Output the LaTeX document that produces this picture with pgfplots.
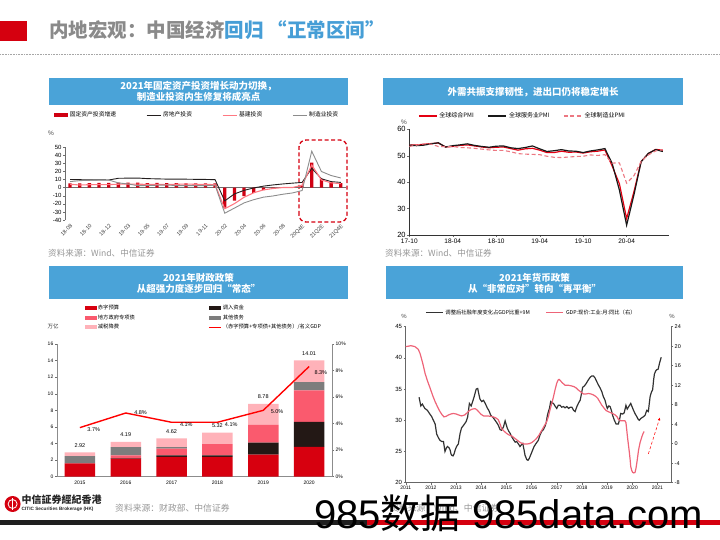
\documentclass[border=0pt]{standalone}
\usepackage{fontspec}
\setmainfont{Liberation Sans}
\newfontfamily\cjk{Noto Sans CJK SC}
\usepackage{pgfplots}
\usepackage{pgfplotstable}
\pgfplotsset{compat=1.18}
\usetikzlibrary{arrows.meta}
\newcommand{\fsz}[1]{\fontsize{#1bp}{#1bp}\selectfont}
\definecolor{cred}{RGB}{213,0,15}
\definecolor{hblue}{RGB}{74,163,216}
\definecolor{tgray}{RGB}{138,138,138}
\definecolor{tblue}{RGB}{70,158,214}
\definecolor{srcgray}{RGB}{150,150,150}
\definecolor{c1red}{RGB}{208,0,18}
\definecolor{c1pink}{RGB}{255,120,130}
\definecolor{c1gray}{RGB}{140,140,140}
\definecolor{c1black}{RGB}{35,30,30}
\definecolor{c2red}{RGB}{228,0,18}
\definecolor{c2pink}{RGB}{236,120,130}
\definecolor{c3red}{RGB}{215,0,15}
\definecolor{c3black}{RGB}{35,24,21}
\definecolor{c3pink}{RGB}{250,90,110}
\definecolor{c3gray}{RGB}{125,125,125}
\definecolor{c3light}{RGB}{255,178,185}
\definecolor{c4black}{RGB}{50,50,50}
\definecolor{c4pink}{RGB}{238,100,120}
\definecolor{axgray}{RGB}{110,110,110}

\pgfplotsset{
 every axis/.append style={scale only axis, anchor=south west,
   axis line style={axgray, line width=0.5pt}, tick style={axgray, line width=0.4pt},
   tick align=outside, major tick length=2bp,
   /pgf/number format/assume math mode=true},
}

\pgfplotstableread{
i fai re infra mfg
0 5.3 10.1 4.2 7.5
1 5.4 9.9 3.3 8.7
2 5.7 9.7 3.7 9.1
3 5.9 9.7 3.7 9.5
4 5.9 9.5 3.8 9.5
5 6.1 11.6 4.3 5.9
6 6.3 11.8 4.4 4.6
7 6.1 11.9 4.4 2.5
8 5.6 11.2 4.0 2.7
9 5.8 10.9 4.1 3.0
10 5.7 10.6 3.8 3.3
11 5.5 10.5 4.2 2.6
12 5.4 10.5 4.5 2.5
13 5.2 10.3 4.2 2.6
14 5.2 10.2 4.0 2.5
15 5.4 9.9 3.8 3.1
16 -24.5 -16.3 -26.0 -31.5
17 -16.1 -7.7 -19.7 -25.2
18 -10.3 -3.3 -11.8 -18.8
19 -6.3 -0.3 -6.3 -14.8
20 -3.1 1.9 -2.7 -11.7
21 -1.6 3.4 -1.0 -10.2
22 -0.3 4.6 0.2 -8.1
23 0.8 5.6 0.2 -6.5
24 3.0 6.5 3.0 -3.5
25 31.0 24.0 28.0 45.0
26 11.0 11.0 9.5 20.0
27 7.0 7.5 6.0 15.0
28 5.5 6.5 5.0 12.0
}\dataA

\pgfplotstableread{
m comp serv mfg
0 54.0 54.0 53.5
1 54.1 53.8 54.0
2 54.3 54.0 54.5
3 54.6 54.5 54.4
4 54.8 54.9 53.5
5 53.3 53.3 53.4
6 53.5 53.8 53.5
7 53.9 54.1 53.1
8 54.1 54.5 53.0
9 53.7 53.9 52.8
10 53.3 53.5 52.5
11 53.0 53.2 52.2
12 53.2 53.6 52.0
13 53.3 53.7 52.0
14 52.7 53.0 51.5
15 52.1 52.7 50.8
16 52.6 53.1 50.6
17 52.8 53.7 50.5
18 52.1 52.6 50.4
19 51.2 51.6 49.8
20 51.2 51.9 49.4
21 51.7 52.3 49.3
22 51.3 51.8 49.5
23 51.4 51.7 49.7
24 51.0 51.2 49.8
25 51.5 51.8 50.3
26 51.7 52.2 50.1
27 52.2 52.7 50.4
28 46.1 47.1 47.2
29 39.4 37.0 47.3
30 26.2 23.7 39.6
31 36.3 35.1 42.4
32 47.8 47.7 47.9
33 50.8 50.9 50.3
34 52.4 52.3 51.8
35 52.1 51.6 52.3
}\dataB

\pgfplotstableread{
i red black pink gray light
0 1.62 0.00 0.00 0.86 0.44
1 2.18 0.05 0.35 1.00 0.61
2 2.38 0.20 0.80 0.20 1.04
3 2.38 0.20 1.35 0.00 1.39
4 2.65 1.45 2.15 0.00 2.53
5 3.60 3.00 3.80 1.00 2.61
}\dataC

\begin{document}
\begin{tikzpicture}
\begin{scope}[x=1bp,y=1bp]
\path[use as bounding box] (0,0) rectangle (720,540);

% ---------- page title ----------
\fill[cred] (0,499) rectangle (27,519);
\node[anchor=west, font=\cjk\bfseries\fsz{19.5}, inner sep=0pt] at (49,509.5)
  {\textcolor{tgray}{内地宏观：中国经济}\textcolor{tblue}{回归\hspace{4bp}“正常区间”}};
\draw[black!35, densely dotted, line width=0.6pt] (0,486) -- (720,486);

% ---------- headers ----------
\fill[hblue] (49,435) rectangle (348,462);
\node[text=white, font=\cjk\bfseries\fontsize{9.5bp}{11.5bp}\selectfont, align=center] at (198.5,448.5)
  {2021年固定资产投资增长动力切换，\\制造业投资内生修复将成亮点};
\fill[hblue] (383,435) rectangle (683,462);
\node[text=white, font=\cjk\bfseries\fsz{9.5}] at (533,447.5) {外需共振支撑韧性，进出口仍将稳定增长};
\fill[hblue] (49,241) rectangle (348,274);
\node[text=white, font=\cjk\bfseries\fontsize{9.5bp}{11.7bp}\selectfont, align=center] at (198.5,256.5)
  {2021年财政政策\\从超强力度逐步回归“常态”};
\fill[hblue] (386,241) rectangle (683,274);
\node[text=white, font=\cjk\bfseries\fontsize{9.5bp}{11.7bp}\selectfont, align=center] at (534.5,256.5)
  {2021年货币政策\\从“非常应对”转向“再平衡”};

\node[font=\fsz{6.5}, text=black!70] at (51,407) {\%};
\draw[cred, line width=1.3pt, dash pattern=on 4bp off 2.5bp, rounded corners=7bp] (299,318) rectangle (347,400);
\node[anchor=west, font=\cjk\fsz{8.6}, text=srcgray, inner sep=0pt] at (48,286.7) {资料来源：Wind、中信证券};
\node[font=\fsz{6.5}, text=black!70] at (404,418) {\%};
\node[anchor=west, font=\cjk\fsz{8.6}, text=srcgray, inner sep=0pt] at (385,286.7) {资料来源：Wind、中信证券};
\node[font=\cjk\fsz{5.5}, text=black!80] at (53,214) {万亿};
\node[font=\fsz{6}, text=black!70] at (404,223.3) {\%};
\node[font=\fsz{6}, text=black!70] at (672,223.3) {\%};

% ---------- footer ----------
\fill[cred] (12.6,36) circle (8);
\draw[white, line width=1pt] (12.6,30) -- (12.6,42);
\draw[white, line width=0.8pt] (12.6,36) circle (4.5);
\node[anchor=west, font=\cjk\bfseries\fsz{10}, text=black!85, inner sep=0pt] at (21.5,40.5) {中信証券經紀香港};
\node[anchor=west, font=\bfseries\fsz{4.7}, text=black!85, inner sep=0pt] at (21.5,30.5) {CITIC Securities Brokerage (HK)};
\node[anchor=west, font=\cjk\fsz{8.8}, text=srcgray, inner sep=0pt] at (115,32) {资料来源：财政部、中信证券};
\node[anchor=west, font=\cjk\fsz{8.8}, text=srcgray, inner sep=0pt] at (390,32) {资料来源：Wind、中信证券};
\fill[black!88] (0,15) rectangle (367,20);
\fill[cred] (367,15) rectangle (720,20);
\end{scope}

% ---------- chart 1 ----------
\begin{axis}[at={(65.2bp,319.9bp)}, width=280.4bp, height=72.9bp,
  xmin=-0.5, xmax=28.5, ymin=-40, ymax=50,
  ytick={-40,-30,...,50},
  axis y line*=left, axis x line*=bottom, x axis line style={draw=none},
  xtick={0,2,...,28},
  xticklabels={18-08,18-10,18-12,19-03,19-05,19-07,19-09,19-11,20-02,20-04,20-06,20-08,20Q4E,21Q2E,21Q4E},
  xtick style={draw=none},
  x tick label style={rotate=45, anchor=north east, font=\fsz{5.5}, inner sep=1bp, text=black!75},
  y tick label style={font=\fsz{6}, inner sep=1.5bp},
  extra y ticks={0}, extra y tick labels={},
  extra y tick style={grid=major, major grid style={axgray, line width=0.5pt}},
  legend columns=4,
  legend style={at={(0.47,1.44)}, anchor=center, draw=none, fill=none, font=\cjk\fsz{5.8},
    /tikz/every even column/.append style={column sep=28bp}, inner sep=0pt},
]
\addplot[ybar, bar width=3.3bp, fill=c1red, draw=none,
  legend image code/.code={\fill[c1red] (0bp,-1.8bp) rectangle (14bp,1.8bp);}]
  table[x=i,y=fai]{\dataA};
\addlegendentry{固定资产投资增速}
\addplot[c1black, line width=0.9pt,
  legend image code/.code={\draw[c1black, line width=0.9pt] (0bp,0bp) -- (14bp,0bp);}]
  table[x=i,y=re]{\dataA};
\addlegendentry{房地产投资}
\addplot[c1pink, line width=1.1pt,
  legend image code/.code={\draw[c1pink, line width=1.1pt] (0bp,0bp) -- (14bp,0bp);}]
  table[x=i,y=infra]{\dataA};
\addlegendentry{基建投资}
\addplot[c1gray, line width=0.9pt,
  legend image code/.code={\draw[c1gray, line width=0.9pt] (0bp,0bp) -- (14bp,0bp);}]
  table[x=i,y=mfg]{\dataA};
\addlegendentry{制造业投资}
\end{axis}

% ---------- chart 2 ----------
\begin{axis}[at={(409.3bp,305bp)}, width=259.7bp, height=105.7bp,
  xmin=0, xmax=35.85, ymin=20, ymax=60,
  ytick={20,30,...,60}, xtick={0,6,...,30},
  xticklabels={17-10,18-04,18-10,19-04,19-10,20-04},
  axis y line*=left, axis x line*=bottom, axis line style={black!80},
  y tick label style={font=\fsz{7.5}, inner sep=1.5bp},
  x tick label style={font=\fsz{6.5}, inner sep=1.5bp},
  legend columns=3,
  legend style={at={(0.0335,1.126)}, anchor=west, draw=none, fill=none, font=\cjk\fsz{6},
    /tikz/every even column/.append style={column sep=12bp}, inner sep=0pt},
]
\addplot[c2red, line width=1.2pt,
  legend image code/.code={\draw[c2red, line width=1.2pt] (0bp,0bp) -- (18bp,0bp);}]
  table[x=m,y=comp]{\dataB};
\addlegendentry{全球综合PMI}
\addplot[black!90, line width=1.2pt,
  legend image code/.code={\draw[black!90, line width=1.2pt] (0bp,0bp) -- (18bp,0bp);}]
  table[x=m,y=serv]{\dataB};
\addlegendentry{全球服务业PMI}
\addplot[c2pink, line width=1.1pt, dash pattern=on 4bp off 2.5bp,
  legend image code/.code={\draw[c2pink, line width=1.1pt, dash pattern=on 4bp off 2.5bp] (0bp,0bp) -- (18bp,0bp);}]
  table[x=m,y=mfg]{\dataB};
\addlegendentry{全球制造业PMI}
\end{axis}

% ---------- chart 3 ----------
\begin{axis}[at={(57bp,63.3bp)}, width=275bp, height=132.7bp,
  xmin=-0.5, xmax=5.5, ymin=0, ymax=16,
  ytick={0,2,...,16}, xtick={0,...,5},
  xticklabels={2015,2016,2017,2018,2019,2020},
  xtick style={draw=none},
  ybar stacked, bar width=30.5bp,
  axis y line*=left, axis x line*=bottom, axis line style={black!45},
  y tick label style={font=\fsz{5}, inner sep=1.5bp},
  x tick label style={font=\fsz{5}, inner sep=2bp},
  legend columns=2, legend cell align=left,
  legend style={at={(0.1,1.305)}, anchor=north west, draw=none, fill=none, font=\cjk\fsz{5.3},
    /tikz/every even column/.append style={column sep=72bp}, row sep=1.3bp,
    nodes={inner sep=1.2bp}, inner sep=0pt},
]
\addplot[fill=c3red, draw=none,
  legend image code/.code={\fill[c3red] (0bp,-2bp) rectangle (12bp,2bp);}]
  table[x=i,y=red]{\dataC};
\addlegendentry{赤字预算}
\addplot[fill=c3black, draw=none,
  legend image code/.code={\fill[c3black] (0bp,-2bp) rectangle (12bp,2bp);}]
  table[x=i,y=black]{\dataC};
\addlegendentry{调入资金}
\addplot[fill=c3pink, draw=none,
  legend image code/.code={\fill[c3pink] (0bp,-2bp) rectangle (12bp,2bp);}]
  table[x=i,y=pink]{\dataC};
\addlegendentry{地方政府专项债}
\addplot[fill=c3gray, draw=none,
  legend image code/.code={\fill[c3gray] (0bp,-2bp) rectangle (12bp,2bp);}]
  table[x=i,y=gray]{\dataC};
\addlegendentry{其他债务}
\addplot[fill=c3light, draw=none,
  legend image code/.code={\fill[c3light] (0bp,-2bp) rectangle (12bp,2bp);}]
  table[x=i,y=light]{\dataC};
\addlegendentry{减税降费}
\addlegendimage{red, line width=1.4pt,
  legend image code/.code={\draw[red, line width=1.4pt] (0bp,0bp) -- (12bp,0bp);}}
\addlegendentry{（赤字预算+专项债+其他债务）/名义GDP}
\node[above, font=\fsz{5.5}, yshift=1.5bp] at (axis cs:0,2.92) {2.92};
\node[above, font=\fsz{5.5}, yshift=1.5bp] at (axis cs:1,4.19) {4.19};
\node[above, font=\fsz{5.5}, yshift=1.5bp] at (axis cs:2,4.62) {4.62};
\node[above, font=\fsz{5.5}, yshift=1.5bp] at (axis cs:3,5.32) {5.32};
\node[above, font=\fsz{5.5}, yshift=1.5bp] at (axis cs:4,8.78) {8.78};
\node[above, font=\fsz{5.5}, yshift=1.5bp] at (axis cs:5,14.01) {14.01};
\end{axis}
\begin{axis}[at={(57bp,63.3bp)}, width=275bp, height=132.7bp,
  xmin=-0.5, xmax=5.5, ymin=0, ymax=10,
  ytick={0,2,...,10}, yticklabel={\pgfmathprintnumber{\tick}\%},
  axis y line*=right, axis x line=none, axis line style={black!45},
  y tick label style={font=\fsz{5}, inner sep=1.5bp},
]
\addplot[red, line width=1.4pt] coordinates {(0,3.7) (1,4.8) (2,4.1) (3,4.1) (4,5.0) (5,8.3)};
\node[anchor=west, font=\fsz{5.5}, xshift=4bp, yshift=-2bp] at (axis cs:0,3.7) {3.7\%};
\node[anchor=west, font=\fsz{5.5}, xshift=5bp, yshift=0bp] at (axis cs:1,4.8) {4.8\%};
\node[anchor=west, font=\fsz{5.5}, xshift=5bp, yshift=-2bp] at (axis cs:2,4.1) {4.1\%};
\node[anchor=west, font=\fsz{5.5}, xshift=4bp, yshift=-2.5bp] at (axis cs:3,4.1) {4.1\%};
\node[anchor=west, font=\fsz{5.5}, xshift=4bp, yshift=-1.5bp] at (axis cs:4,5.0) {5.0\%};
\node[anchor=west, font=\fsz{5.5}, xshift=2bp, yshift=-6.5bp] at (axis cs:5,8.3) {8.3\%};
\end{axis}

% ---------- chart 4 ----------
\begin{axis}[at={(405.7bp,57.3bp)}, width=265.3bp, height=156bp,
  xmin=2011, xmax=2021.54, ymin=20, ymax=45,
  ytick={20,25,...,45}, xtick={2011,...,2021},
  /pgf/number format/1000 sep={},
  axis y line*=left, axis x line*=bottom, axis line style={black!60},
  y tick label style={font=\fsz{6}, inner sep=1.5bp},
  x tick label style={font=\fsz{5}, inner sep=1.5bp},
  legend columns=2,
  legend style={at={(0.073,1.09)}, anchor=west, draw=none, fill=none, font=\cjk\fsz{5.3},
    /tikz/every even column/.append style={column sep=14bp}, inner sep=0pt},
]
\addplot[c4black, line width=1.2pt,
  legend image code/.code={\draw[c4black, line width=1.2pt] (0bp,0bp) -- (17bp,0bp);}]
  coordinates {
(2011.53,33.7)(2011.6,32.3)(2011.66,32.6)(2011.76,31.9)(2011.86,31.6)(2011.96,31.0)(2012.03,30.6)(2012.1,30.0)(2012.17,29.4)(2012.23,27.8)(2012.3,27.2)(2012.36,26.8)(2012.43,26.6)(2012.5,26.6)(2012.56,25.0)(2012.62,25.6)(2012.66,25.8)(2012.72,25.6)(2012.76,25.3)(2012.8,24.6)(2012.83,24.4)(2012.88,24.3)(2012.92,24.6)(2012.97,25.3)(2013.02,25.8)(2013.09,26.2)(2013.16,27.9)(2013.22,28.8)(2013.3,29.2)(2013.4,29.8)(2013.46,30.5)(2013.53,32.7)(2013.6,32.3)(2013.66,33.0)(2013.72,33.8)(2013.8,35.0)(2013.86,35.1)(2013.9,34.3)(2013.95,33.4)(2014.02,33.0)(2014.09,33.2)(2014.16,32.7)(2014.25,31.9)(2014.3,31.6)(2014.38,30.8)(2014.46,30.5)(2014.55,30.0)(2014.62,29.6)(2014.68,29.2)(2014.75,28.5)(2014.81,28.4)(2014.88,28.9)(2014.95,29.9)(2015.0,29.2)(2015.04,28.7)(2015.1,28.2)(2015.15,27.9)(2015.22,27.3)(2015.28,26.9)(2015.35,26.5)(2015.41,26.6)(2015.48,26.2)(2015.54,25.8)(2015.6,26.1)(2015.65,26.3)(2015.7,25.3)(2015.74,24.4)(2015.81,23.7)(2015.86,23.6)(2015.91,23.9)(2016.0,24.8)(2016.05,25.3)(2016.1,25.8)(2016.18,26.3)(2016.27,26.8)(2016.33,27.6)(2016.4,28.2)(2016.47,28.5)(2016.54,29.1)(2016.58,29.6)(2016.63,30.8)(2016.67,31.4)(2016.71,31.9)(2016.76,33.0)(2016.82,32.8)(2016.87,32.7)(2016.93,32.3)(2017.0,31.9)(2017.06,32.4)(2017.13,32.4)(2017.2,32.1)(2017.27,32.2)(2017.33,32.0)(2017.4,32.2)(2017.47,31.9)(2017.54,32.1)(2017.6,32.1)(2017.67,31.6)(2017.73,31.4)(2017.8,32.2)(2017.87,32.8)(2017.93,33.2)(2017.98,34.2)(2018.03,35.3)(2018.1,35.5)(2018.17,35.9)(2018.26,36.5)(2018.33,36.9)(2018.39,37.1)(2018.46,37.1)(2018.52,36.8)(2018.59,36.2)(2018.65,35.7)(2018.72,35.2)(2018.79,34.6)(2018.85,33.8)(2018.92,33.2)(2018.97,32.4)(2019.01,31.9)(2019.07,32.3)(2019.12,32.2)(2019.17,31.6)(2019.22,30.8)(2019.29,30.0)(2019.36,29.4)(2019.45,29.4)(2019.5,30.2)(2019.54,31.1)(2019.62,31.0)(2019.68,31.2)(2019.75,32.4)(2019.8,31.8)(2019.86,32.2)(2019.94,32.7)(2020.0,32.1)(2020.05,31.6)(2020.12,31.0)(2020.18,30.6)(2020.23,30.2)(2020.28,30.0)(2020.34,30.3)(2020.42,30.5)(2020.51,30.8)(2020.55,31.3)(2020.58,31.6)(2020.64,31.4)(2020.68,32.8)(2020.71,33.8)(2020.76,34.5)(2020.81,34.9)(2020.85,36.5)(2020.88,37.4)(2020.93,37.9)(2020.97,38.1)(2021.03,38.2)(2021.08,39.1)(2021.15,40.1)
  };
\addlegendentry{调整后社融年度变化占GDP比重+9M}
\addlegendimage{c4pink, line width=1.2pt,
  legend image code/.code={\draw[c4pink, line width=1.2pt] (0bp,0bp) -- (17bp,0bp);}}
\addlegendentry{GDP:现价:工业:月:同比（右）}
\end{axis}
\begin{axis}[at={(405.7bp,57.3bp)}, width=265.3bp, height=156bp,
  xmin=2011, xmax=2021.54, ymin=-8, ymax=24,
  ytick={-8,-4,...,24},
  axis y line*=right, axis x line=none, axis line style={black!60},
  y tick label style={font=\fsz{5.5}, inner sep=1.5bp},
]
\addplot[c4pink, line width=1.2pt] coordinates {
(2011.0,19.9)(2011.1,20.0)(2011.2,20.1)(2011.3,20.0)(2011.37,19.9)(2011.5,19.35)(2011.57,18.5)(2011.64,17.2)(2011.7,16.0)(2011.77,14.4)(2011.87,12.8)(2011.97,11.4)(2012.07,9.9)(2012.17,8.6)(2012.27,7.5)(2012.36,6.6)(2012.45,5.9)(2012.52,5.5)(2012.6,5.6)(2012.7,5.9)(2012.8,6.1)(2012.89,6.2)(2013.0,6.1)(2013.1,5.9)(2013.22,5.7)(2013.35,5.9)(2013.45,6.4)(2013.56,6.9)(2013.65,7.1)(2013.75,7.2)(2013.82,7.0)(2013.89,6.6)(2014.0,6.0)(2014.09,5.7)(2014.25,5.7)(2014.38,5.6)(2014.48,5.5)(2014.58,5.3)(2014.68,4.9)(2014.75,4.0)(2014.81,3.1)(2014.9,2.6)(2015.01,2.1)(2015.1,1.8)(2015.21,1.6)(2015.31,1.2)(2015.41,0.8)(2015.51,0.4)(2015.61,0.07)(2015.71,-0.05)(2015.81,-0.07)(2015.9,0.0)(2016.0,0.2)(2016.1,0.6)(2016.2,1.1)(2016.3,1.8)(2016.4,2.7)(2016.5,3.6)(2016.6,4.5)(2016.67,5.6)(2016.73,6.9)(2016.8,8.2)(2016.87,9.6)(2016.93,11.0)(2017.0,12.4)(2017.05,13.0)(2017.09,13.2)(2017.15,12.9)(2017.22,12.5)(2017.33,12.0)(2017.45,12.0)(2017.55,11.9)(2017.69,11.7)(2017.78,11.4)(2017.86,11.0)(2017.96,10.6)(2018.06,10.2)(2018.16,10.2)(2018.26,10.3)(2018.36,10.2)(2018.46,10.0)(2018.55,9.7)(2018.63,9.3)(2018.71,8.6)(2018.79,7.9)(2018.88,7.3)(2018.96,6.8)(2019.04,6.6)(2019.12,6.4)(2019.22,6.2)(2019.32,5.9)(2019.4,5.5)(2019.45,5.0)(2019.54,4.7)(2019.62,4.7)(2019.71,4.7)(2019.75,4.3)(2019.78,2.9)(2019.81,1.4)(2019.85,-0.3)(2019.89,-2.0)(2019.92,-3.5)(2019.94,-4.7)(2019.98,-5.5)(2020.02,-5.9)(2020.06,-6.0)(2020.11,-5.9)(2020.15,-5.0)(2020.18,-4.0)(2020.22,-2.5)(2020.25,-1.3)(2020.31,0.2)(2020.38,1.4)(2020.43,2.1)(2020.47,2.5)
};
\addplot[red, line width=0.5pt, densely dashed, -{Latex[length=3bp,width=2.5bp]}] coordinates {(2020.64,-2.1) (2021.1,5.4)};
\end{axis}

\begin{scope}[x=1bp,y=1bp]
\node[anchor=base west, font=\fsz{40}, inner sep=0pt] at (314,11) {985{\cjk 数据} 985data.com};
\end{scope}
\end{tikzpicture}
\end{document}
